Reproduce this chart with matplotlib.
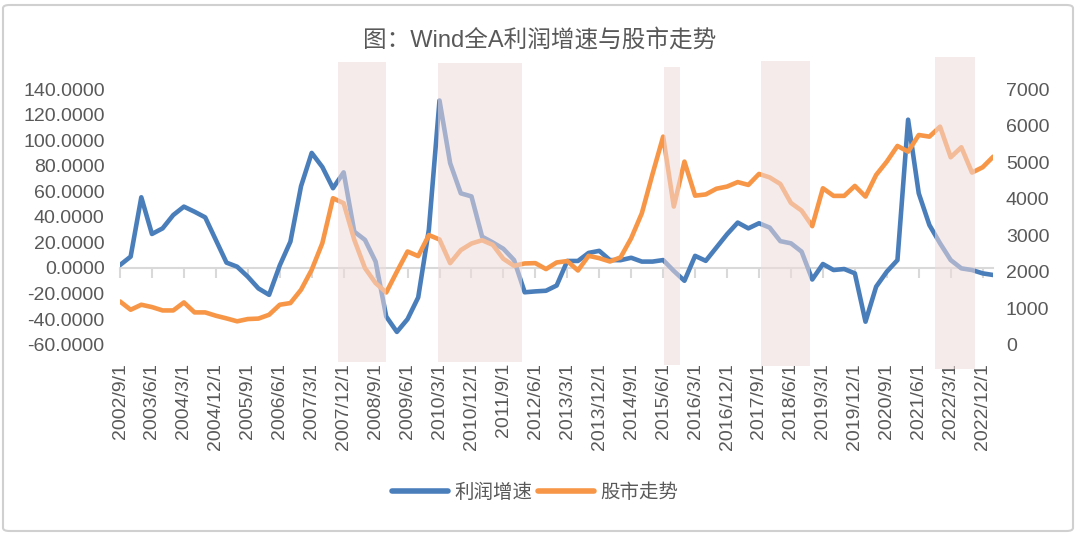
import matplotlib
matplotlib.use("Agg")
import matplotlib.pyplot as plt
import matplotlib.transforms as mtransforms
from matplotlib.patches import Rectangle, FancyBboxPatch
import pandas as pd

plt.rcParams['font.family'] = ['Liberation Sans', 'Noto Sans CJK SC', 'DejaVu Sans']

# ---------------- data ----------------
dates = pd.date_range('2002-09-01', periods=83, freq='3MS')
categories = [f"{d.year}/{d.month}/1" for d in dates]

profit_growth = [
    2.3, 8.9, 55.3, 26.6, 31.0, 41.4, 48.0, 44.0, 39.6, 21.9,
    4.2, 1.0, -6.8, -16.0, -21.0, 2.0, 20.6, 64.0, 90.0, 79.0,
    62.4, 74.8, 28.4, 22.0, 5.0, -38.0, -50.0, -40.0, -23.0, 30.0,
    131.0, 82.0, 58.4, 56.0, 24.5, 20.0, 15.0, 6.2, -19.0, -18.3,
    -17.8, -13.7, 5.5, 5.5, 11.8, 13.4, 6.2, 6.1, 8.0, 5.0,
    5.0, 6.2, -2.3, -10.0, 9.5, 5.6, 16.0, 26.4, 35.5, 31.0,
    35.0, 31.6, 21.0, 19.3, 12.8, -9.0, 3.1, -1.6, -0.8, -4.2,
    -42.0, -14.6, -2.9, 6.2, 116.0, 58.4, 33.6, 19.3, 6.2, -0.3,
    -1.6, -4.2, -5.5,
]

stock_index = [
    1184, 957, 1094, 1030, 938, 938, 1157, 884, 884, 793,
    720, 640, 702, 715, 820, 1094, 1140, 1504, 2050, 2780,
    4010, 3874, 2870, 2097, 1687, 1430, 2000, 2551, 2425, 3000,
    2880, 2233, 2590, 2770, 2860, 2734, 2350, 2160, 2224, 2233,
    2070, 2251, 2290, 2032, 2433, 2369, 2278, 2390, 2915, 3600,
    4670, 5696, 3782, 5012, 4080, 4114, 4270, 4329, 4452, 4374,
    4675, 4580, 4400, 3880, 3670, 3245, 4283, 4074, 4074, 4347,
    4055, 4648, 5012, 5441, 5285, 5741, 5696, 5969, 5131, 5405,
    4712, 4858, 5149,
]

# shaded periods, in category-index units
shade_start = [20.5, 29.9, 51.1, 60.2, 76.5]
shade_end = [25.0, 37.7, 52.6, 64.8, 80.3]

left_ticks = list(range(-60, 141, 20))
right_ticks = list(range(0, 7001, 1000))

series_names = ['利润增速', '股市走势']
title = '图：Wind全A利润增速与股市走势'

# ---------------- styling ----------------
BLUE = '#4A7EBB'
ORANGE = '#F79646'
GRAY_TXT = '#595959'
AXIS_GRAY = '#D9D9D9'

W, H = 1080, 535
fig = plt.figure(figsize=(W / 100, H / 100), dpi=100)

# outer frame
frame = FancyBboxPatch((3 / W, 4 / H), (1070 / W), (526 / H),
                       boxstyle='round,pad=0,rounding_size=0.006',
                       transform=fig.transFigure, facecolor='white',
                       edgecolor='#D0D0D0', linewidth=1.5, zorder=-10)
fig.patches.append(frame)

ax_l, ax_r = 120 / W, 993.3 / W
ax_b, ax_t = 1 - 344.7 / H, 1 - 89 / H
ax = fig.add_axes([ax_l, ax_b, ax_r - ax_l, ax_t - ax_b])
ax.patch.set_alpha(0)

x = list(range(len(categories)))
line1, = ax.plot(x, profit_growth, color=BLUE, lw=3.3, solid_joinstyle='round',
                 solid_capstyle='round', label=series_names[0])
ax.set_xlim(0, len(categories) - 1)
ax.set_ylim(-60, 140)
ax.set_yticks(left_ticks)
ax.set_yticklabels([f"{v:.4f}" for v in left_ticks])

for s in ax.spines.values():
    s.set_visible(False)

tick_pos = x[::3]
ax.set_xticks(tick_pos)
ax.set_xticklabels([categories[i] for i in tick_pos], rotation=90)
ax.tick_params(axis='x', length=0, pad=13, labelsize=14, labelcolor=GRAY_TXT)
ax.tick_params(axis='y', length=0, pad=11, labelsize=14, labelcolor=GRAY_TXT)

# zero-line axis with tick marks
zero_frac = (0 - (-60)) / (140 - (-60))
sec = ax.secondary_xaxis(zero_frac)
sec.set_xticks(tick_pos)
sec.tick_params(axis='x', direction='out', length=7, width=1.5, color=AXIS_GRAY,
                labelbottom=False, labeltop=False)
for k, s in sec.spines.items():
    s.set_visible(k == 'bottom')
sec.spines['bottom'].set_color(AXIS_GRAY)
sec.spines['bottom'].set_linewidth(1.5)
sec.set_zorder(0.5)

ax2 = ax.twinx()
line2, = ax2.plot(x, stock_index, color=ORANGE, lw=3.3, solid_joinstyle='round',
                  solid_capstyle='round', label=series_names[1])
ax2.set_ylim(0, 7000)
ax2.set_yticks(right_ticks)
ax2.set_yticklabels([str(v) for v in right_ticks])
ax2.tick_params(axis='y', length=0, pad=9, labelsize=14, labelcolor=GRAY_TXT)
for s in ax2.spines.values():
    s.set_visible(False)

# shaded rectangles overlaying the lines
shade_tops = [62, 63, 67, 61, 57]
shade_bottoms = [362, 362, 365, 366, 369]
trans = mtransforms.blended_transform_factory(ax.transData, fig.transFigure)
for xs, xe, tp, bt in zip(shade_start, shade_end, shade_tops, shade_bottoms):
    r = Rectangle((xs, 1 - bt / H), xe - xs, (bt - tp) / H, transform=trans,
                  facecolor=(0.94, 0.86, 0.86), alpha=0.55, edgecolor='none',
                  clip_on=False, zorder=3)
    fig.add_artist(r)

fig.text(540 / W, 1 - 40 / H, title, ha='center', va='center',
         fontsize=17, color=GRAY_TXT)

leg = fig.legend([line1, line2], series_names, loc='center',
                 bbox_to_anchor=(535 / W, 1 - 493 / H), ncol=2, frameon=False,
                 fontsize=14, handlelength=2.9, handletextpad=0.3,
                 columnspacing=0.3, labelcolor=GRAY_TXT)
for h in leg.legend_handles:
    h.set_linewidth(4)

fig.savefig('out.png', dpi=100)
